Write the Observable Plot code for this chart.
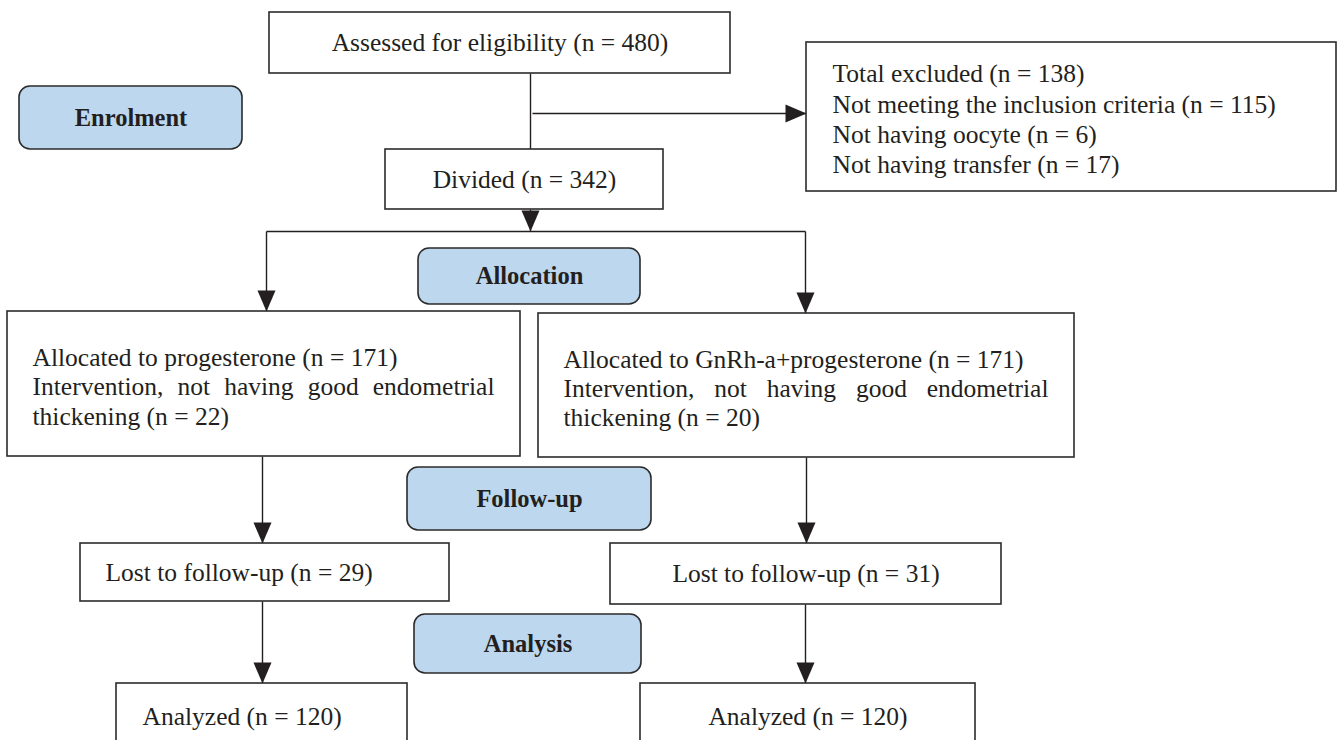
<!DOCTYPE html>
<html><head><meta charset="utf-8">
<script src="https://cdn.jsdelivr.net/npm/d3@7"></script>
<script src="https://cdn.jsdelivr.net/npm/@observablehq/plot@0.6"></script>
<style>html,body{margin:0;padding:0;background:#fff;overflow:hidden;} #chart svg{display:block;overflow:hidden}</style>
</head><body><div id="chart"></div>
<script>
// ---- data ----
const stageLabels = ["Enrolment", "Allocation", "Follow-up", "Analysis"];
const assessedLabel = "Assessed for eligibility";
const assessedN = 480;
const excludedLabels = ["Total excluded", "Not meeting the inclusion criteria", "Not having oocyte", "Not having transfer"];
const excludedN = [138, 115, 6, 17];
const dividedLabel = "Divided";
const dividedN = 342;
const arms = ["progesterone", "GnRh-a+progesterone"];
const allocatedN = [171, 171];
const notThickenedLabel = ["Intervention, not having good endometrial", "thickening"];
const notThickenedN = [22, 20];
const lostLabel = "Lost to follow-up";
const lostN = [29, 31];
const analyzedLabel = "Analyzed";
const analyzedN = [120, 120];

// ---- layout (pixel space of the figure) ----
const W = 1338, H = 740;
const BOX = {
  assessed: [269, 730, 12, 73],
  excluded: [806, 1336, 42, 191],
  divided:  [385, 663, 149, 209],
  alloc0:   [7, 520, 311, 456],
  alloc1:   [538, 1074, 313, 457],
  lost0:    [80, 449, 543, 601],
  lost1:    [610, 1001, 543, 604],
  anal0:    [116, 407, 683, 744],
  anal1:    [640, 975, 683, 744]
};
const STAGE_BOX = [[19, 242, 86, 149], [418, 640, 248, 304], [407, 651, 467, 530], [414, 641, 614, 673]];
const LINKS = [
  [530, 73, 530, 149, false],
  [532, 113, 806, 113, true],
  [530, 209, 530, 231, true],
  [266, 231, 805, 231, false],
  [266, 231, 266, 311, true],
  [805, 231, 805, 313, true],
  [262, 456, 262, 543, true],
  [262, 601, 262, 683, true],
  [806, 457, 806, 543, true],
  [805, 604, 805, 683, true]
];
const FONT = "Liberation Serif, Times New Roman, serif";
const FS = 25.5;
const INK = "#231f20";

const n = v => `(n = ${v})`;
const boxes = Object.entries(BOX).map(([id, b]) => ({id, x1: b[0], x2: b[1], y1: b[2], y2: b[3]}));
const stageBoxes = STAGE_BOX.map((b, i) => ({label: stageLabels[i], x1: b[0], x2: b[1], y1: b[2], y2: b[3]}));
const mid = b => (b[2] + b[3]) / 2;
const cx = b => (b[0] + b[1]) / 2;

const centered = [
  {x: cx(BOX.assessed), y: mid(BOX.assessed), t: `${assessedLabel} ${n(assessedN)}`},
  {x: cx(BOX.divided), y: mid(BOX.divided), t: `${dividedLabel} ${n(dividedN)}`},
  {x: cx(BOX.lost1), y: mid(BOX.lost1), t: `${lostLabel} ${n(lostN[1])}`},
  {x: cx(BOX.anal1), y: BOX.anal1[2] + 33, t: `${analyzedLabel} ${n(analyzedN[1])}`}
];
const leftSingle = [
  {x: BOX.lost0[0] + 25, y: mid(BOX.lost0), t: `${lostLabel} ${n(lostN[0])}`},
  {x: BOX.anal0[0] + 26, y: BOX.anal0[2] + 33, t: `${analyzedLabel} ${n(analyzedN[0])}`}
];
const excludedText = excludedLabels.map((l, i) => `${l} ${n(excludedN[i])}`).join("\n");
const allocText = arms.map((a, i) =>
  `Allocated to ${a} ${n(allocatedN[i])}\n${notThickenedLabel[0]}\n${notThickenedLabel[1]} ${n(notThickenedN[i])}`);
const allocBlocks = [
  {x: BOX.alloc0[0] + 25, y: mid(BOX.alloc0) + 2, t: allocText[0]},
  {x: BOX.alloc1[0] + 25, y: mid(BOX.alloc1) + 2, t: allocText[1]}
];
const exclBlock = [{x: BOX.excluded[0] + 26, y: mid(BOX.excluded) + 1, t: excludedText}];

const links = LINKS.map(([x1, y1, x2, y2, a]) => ({x1, y1, x2, y2, a}));
const heads = links.filter(d => d.a).map(d => ({x: d.x2, y: d.y2,
  rot: Math.atan2(d.y2 - d.y1, d.x2 - d.x1) * 180 / Math.PI - 90}));
const arrowHead = {draw(ctx) { ctx.moveTo(0, 0); ctx.lineTo(-9, -21); ctx.lineTo(9, -21); ctx.closePath(); }};

const plot = Plot.plot({
  width: W, height: H,
  marginTop: 0, marginRight: 0, marginBottom: 0, marginLeft: 0,
  x: {domain: [0, W], range: [0, W], axis: null},
  y: {domain: [0, H], range: [0, H], axis: null},
  style: {background: "#fff"},
  marks: [
    Plot.link(links, {x1: "x1", y1: "y1", x2: "x2", y2: "y2", stroke: INK, strokeWidth: 1.4}),
    Plot.rect(boxes, {x1: "x1", x2: "x2", y1: "y1", y2: "y2", fill: "#fff", stroke: "#2b2b2b", strokeWidth: 1.6}),
    Plot.rect(stageBoxes, {x1: "x1", x2: "x2", y1: "y1", y2: "y2", fill: "#bdd7ee", stroke: "#2b2b2b", strokeWidth: 1.6, rx: 11, ry: 11}),
    Plot.dot(heads, {x: "x", y: "y", symbol: arrowHead, rotate: "rot", r: 5, fill: INK, stroke: "none"}),
    Plot.text(stageBoxes, {x: d => (d.x1 + d.x2) / 2, y: d => (d.y1 + d.y2) / 2, text: "label",
      fontFamily: FONT, fontSize: 24.5, fontWeight: "bold", fill: INK, textAnchor: "middle", lineAnchor: "middle"}),
    Plot.text(centered, {x: "x", y: "y", text: "t", fontFamily: FONT, fontSize: FS, fill: INK, textAnchor: "middle", lineAnchor: "middle"}),
    Plot.text(leftSingle, {x: "x", y: "y", text: "t", fontFamily: FONT, fontSize: FS, fill: INK, textAnchor: "start", lineAnchor: "middle"}),
    Plot.text(exclBlock, {x: "x", y: "y", text: "t", fontFamily: FONT, fontSize: FS, fill: INK, textAnchor: "start", lineAnchor: "middle", lineHeight: 1.19}),
    Plot.text(allocBlocks, {x: "x", y: "y", text: "t", fontFamily: FONT, fontSize: FS, fill: INK, textAnchor: "start", lineAnchor: "middle", lineHeight: 1.15})
  ]
});
document.getElementById("chart").append(plot);

// justify the middle line of the allocation boxes
plot.querySelectorAll("tspan").forEach(el => {
  const t = el.textContent;
  if (!t.startsWith(notThickenedLabel[0])) return;
  const r = el.getBoundingClientRect();
  const box = [BOX.alloc0, BOX.alloc1].find(b => r.left >= b[0] && r.left <= b[1]);
  if (!box) return;
  const pad = r.left - box[0];
  const target = box[1] - pad - r.left;
  const spaces = (t.match(/ /g) || []).length;
  el.style.wordSpacing = ((target - r.width) / spaces) + "px";
});
</script></body></html>
